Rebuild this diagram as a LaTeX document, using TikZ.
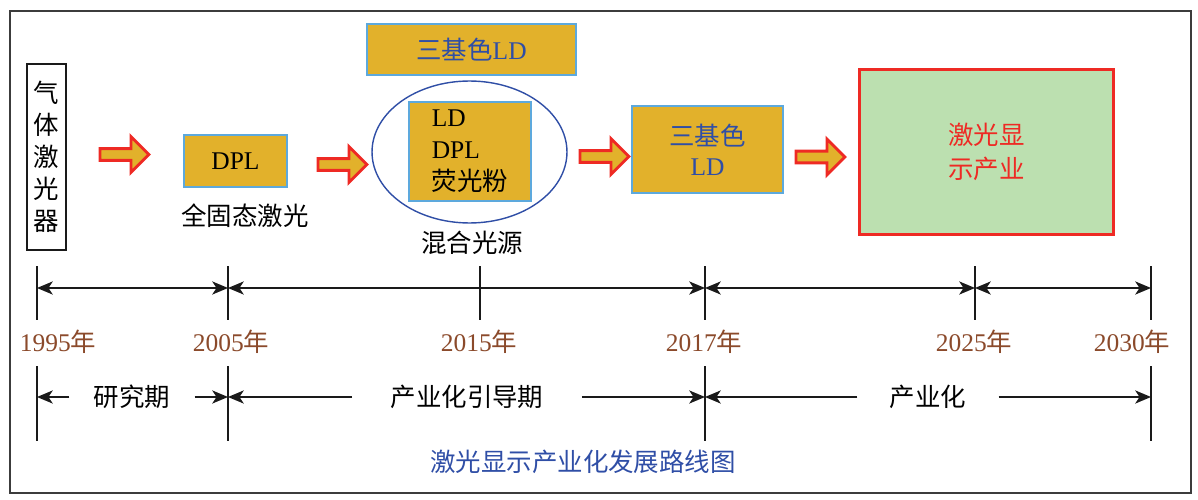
\documentclass[tikz,border=0pt]{standalone}
\usepackage{fontspec}
\setmainfont{Liberation Serif}
\newfontfamily\cjk{Noto Sans CJK SC}
\usetikzlibrary{arrows.meta,positioning,shapes.geometric,shapes.arrows}
\definecolor{cGold}{HTML}{E2B12B}
\definecolor{cSky}{HTML}{5DA9DD}
\definecolor{cRed}{HTML}{EE2A24}
\definecolor{cLeaf}{HTML}{BCE0B0}
\definecolor{cYear}{HTML}{8B4A2B}
\definecolor{cNavy}{HTML}{2F4EA6}
\definecolor{ink}{HTML}{1A1A1A}

\begin{document}
\begin{tikzpicture}[x=0.02cm, y=-0.02cm, font=\fontsize{14.5}{18.2}\selectfont, >={Stealth[length=9pt,width=7.5pt,inset=2.5pt]},
  g/.style={draw=cSky, line width=1pt, fill=cGold, inner sep=0pt},
  ra/.style={single arrow, draw=cRed, fill=cGold, line width=1.6pt, minimum height=0.98cm, inner sep=0.09cm, single arrow head extend=0.24cm},
  zh/.style={font=\fontsize{14.5}{18.2}\selectfont\cjk},
  yr/.style={text=cYear},
  tk/.style={line width=1pt, draw=ink},
  per/.style={zh, inner ysep=0pt}]
\useasboundingbox (0,0) rectangle (1198,500);
\draw[line width=1.1pt, ink!85] (10,11) rectangle (1191,493);
\node[draw=ink, line width=1pt, minimum width=0.78cm, minimum height=3.72cm, align=center, inner sep=0pt, zh] (gas) at (46.5,157) {气\\体\\激\\光\\器};
\node[ra] (a1) at (121.5,154.5) {};
\node[g, minimum width=2.06cm, minimum height=1.04cm] (dpl) at (235.5,161) {DPL};
\node[zh] (solid) at (245,216) {全固态激光};
\node[ra] (a2) at (339.5,164.5) {};
\node[g, minimum width=4.18cm, minimum height=1.02cm, text=cNavy] (rgbtop) at (471.5,49.5) {{\cjk 三基色}LD};
\node[ellipse, draw=cNavy, line width=0.8pt, minimum width=3.9cm, minimum height=2.84cm] (mix) at (469.5,152) {};
\node[g, minimum width=2.44cm, minimum height=1.98cm, align=left] (mixbox) at (470,151.5) {LD\\DPL\\{\cjk 荧光粉}};
\node[zh] (mixlab) at (472,243) {混合光源};
\node[ra] (a3) at (601.5,156.5) {};
\node[g, minimum width=3.02cm, minimum height=1.74cm, text=cNavy, align=center, font=\fontsize{14.5}{17}\selectfont] (rgb) at (707.5,149.5) {{\cjk 三基色}\\LD};
\node[ra] (a4) at (817.5,157) {};
\node[draw=cRed, line width=1.7pt, fill=cLeaf, minimum width=5.1cm, minimum height=3.32cm, text=cRed, align=center, font=\fontsize{14.5}{19.8}\selectfont\cjk] (ind) at (986.5,152) {激光显\\示产业};
\foreach \n/\x in {1/37,2/228,3/480,4/705,5/975,6/1151} {
  \coordinate (u\n) at (\x,288);
  \draw[tk] (\x,266) -- (\x,320);
}
\foreach \a/\b in {1/2,2/4,4/5,5/6} \draw[<->, tk] (u\a) -- (u\b);
\node[yr] (y1) at (58,342) {1995{\cjk 年}};
\node[yr] (y2) at (231,342) {2005{\cjk 年}};
\node[yr] (y3) at (479,342) {2015{\cjk 年}};
\node[yr] (y4) at (704,342) {2017{\cjk 年}};
\node[yr] (y5) at (974,342) {2025{\cjk 年}};
\node[yr] (y6) at (1132,342) {2030{\cjk 年}};
\foreach \n/\x in {1/37,2/228,4/705,6/1151} {
  \coordinate (l\n) at (\x,397);
  \draw[tk] (\x,366) -- (\x,441);
}
\node[per, inner xsep=0.48cm] (p1) at (132,397) {研究期};
\node[per, inner xsep=0.76cm] (p2) at (467,397) {产业化引导期};
\node[per, inner xsep=0.64cm] (p3) at (928,397) {产业化};
\draw[->, tk] (p1) -- (l1);
\draw[->, tk] (p1) -- (l2);
\draw[->, tk] (p2) -- (l2);
\draw[->, tk] (p2) -- (l4);
\draw[->, tk] (p3) -- (l4);
\draw[->, tk] (p3) -- (l6);
\node[zh, text=cNavy] (cap) at (583,462) {激光显示产业化发展路线图};
\end{tikzpicture}
\end{document}
